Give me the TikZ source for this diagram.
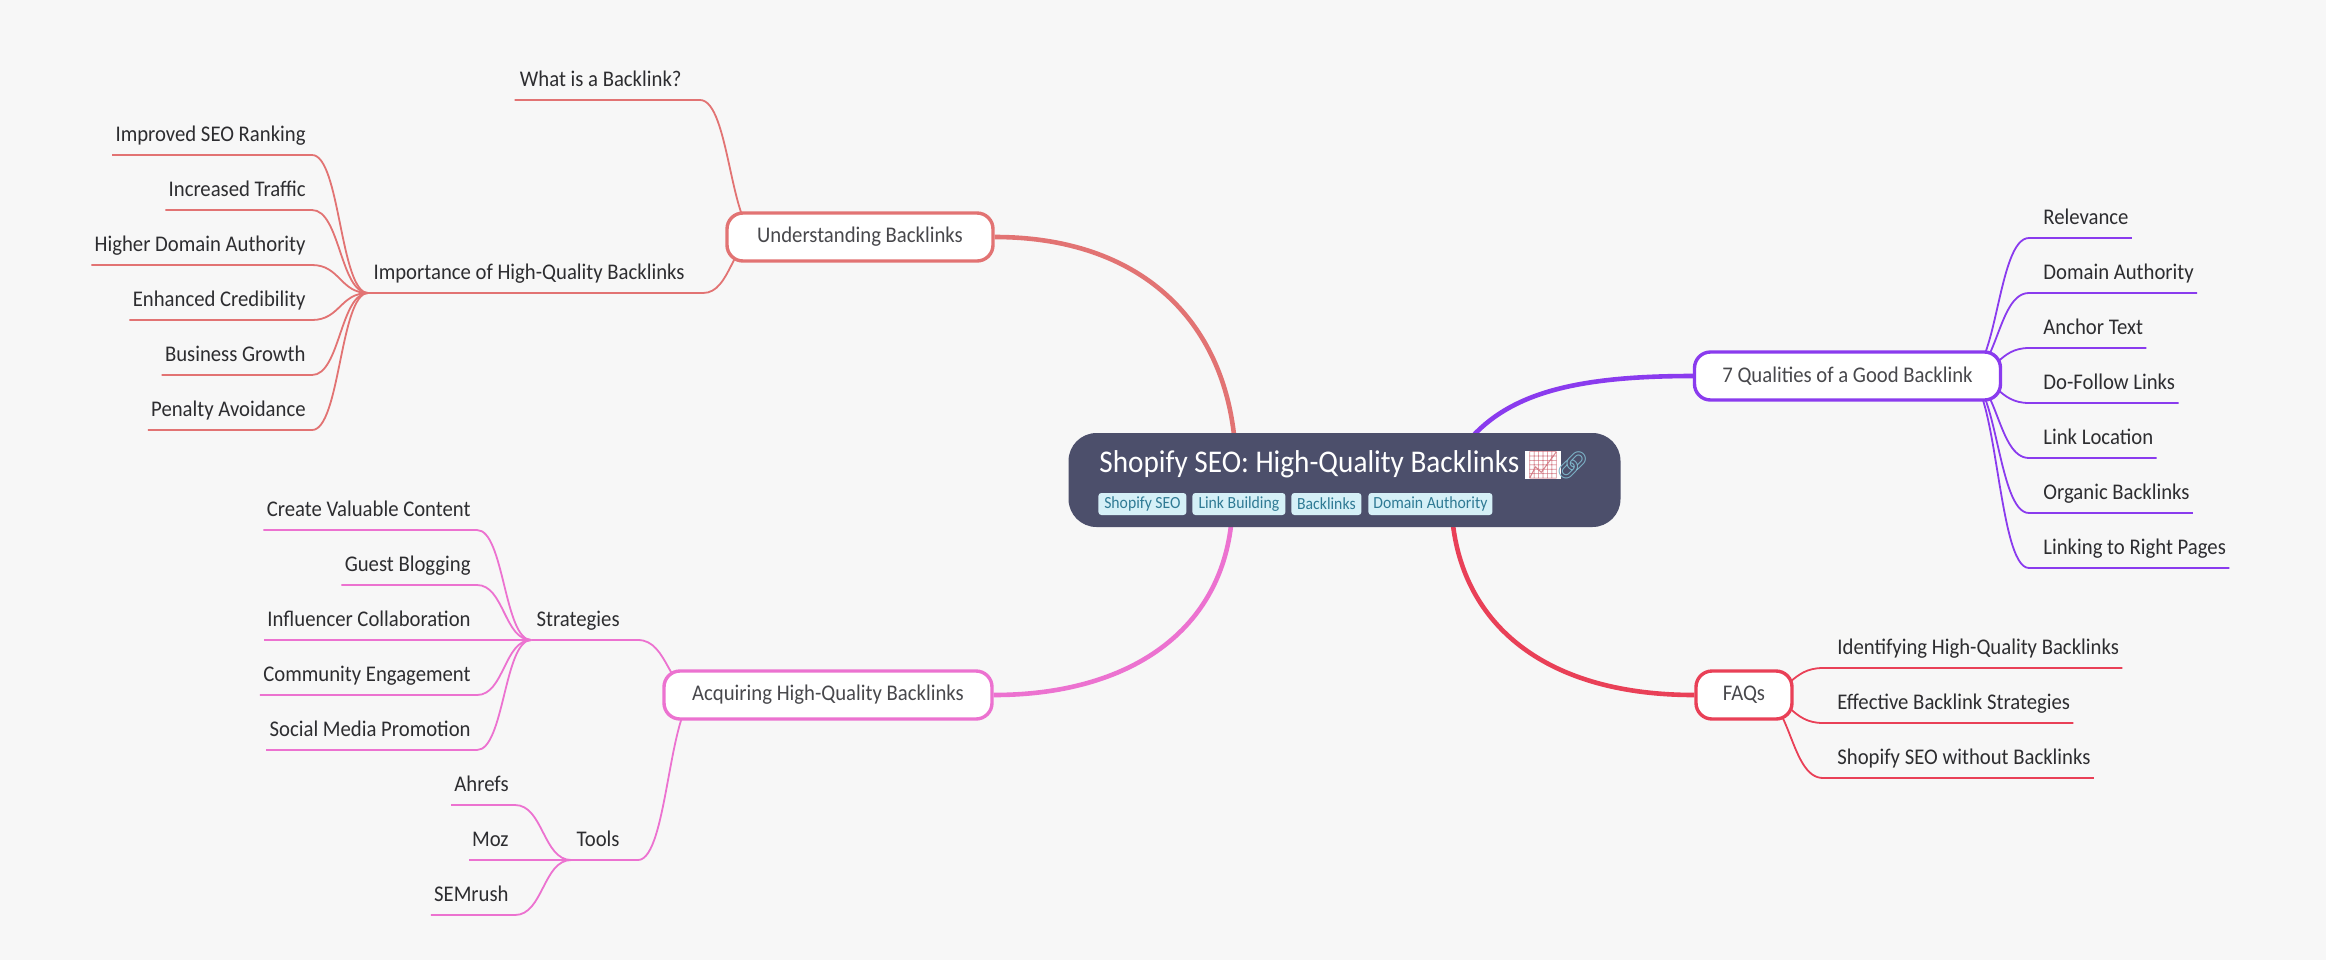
\documentclass[tikz,border=0pt]{standalone}
\usepackage{fontspec}
\usepackage{xcolor}
\usetikzlibrary{calc}
\setmainfont[FakeStretch=0.925]{Carlito}
\newfontfamily\emojifont{Noto Emoji}
\definecolor{mapbg}{RGB}{247, 247, 247}
\definecolor{mapink}{RGB}{45, 45, 48}
\definecolor{mapboxink}{RGB}{72, 72, 76}
\definecolor{maproot}{RGB}{76, 79, 107}
\definecolor{maptag}{RGB}{213, 240, 247}
\definecolor{maptagink}{RGB}{47, 122, 148}
\definecolor{maplink}{RGB}{125, 180, 200}
\definecolor{mapchart}{RGB}{214, 130, 140}
\definecolor{mapred}{RGB}{226, 115, 115}
\definecolor{mappink}{RGB}{236, 114, 208}
\definecolor{mappurple}{RGB}{138, 59, 238}
\definecolor{mapcrimson}{RGB}{233, 64, 87}
\tikzset{
  leafleft/.style={anchor=south east, inner ysep=0pt, inner xsep=1.5pt, text=mapink,
    text height=7pt, text depth=6.8pt, font=\fontsize{11.2}{13}\selectfont,
    execute at end node={\hskip1.5pt}},
  leafright/.style={anchor=south west, inner ysep=0pt, inner xsep=1.5pt, text=mapink,
    text height=7pt, text depth=6.8pt, font=\fontsize{11.2}{13}\selectfont,
    execute at begin node={\hskip5.5pt}},
  midleft/.style={leafleft, inner xsep=2.5pt, execute at end node={\hskip5pt}},
  branchbox/.style={draw, line width=1.7pt, fill=white, rounded corners=8pt, text=mapboxink,
    minimum height=24pt, inner sep=0pt, font=\fontsize{11.2}{13}\selectfont},
  tagbox/.style={fill=maptag, rounded corners=1.5pt, text=maptagink, anchor=west,
    minimum height=11pt, inner sep=0pt, font=\fontsize{8.5}{10}\selectfont},
  branch/.style={to path={let \p1=(\tikztostart),\p2=(\tikztotarget) in
    .. controls (\x1/2+\x2/2,\y1) and (\x1/2+\x2/2,\y2) .. (\tikztotarget)}},
  thin line/.style={line width=0.9pt},
  main line/.style={line width=2.3pt}
}
\begin{document}
\begin{tikzpicture}[x=0.5pt, y=-0.5pt]
\fill[mapbg] (0,0) rectangle (2326,960);
\useasboundingbox (0,0) rectangle (2326,960);

% Junctions, hidden behind the boxes
\coordinate (jund) at (760,237);
\coordinate (jacq) at (699,695);
\coordinate (jqual) at (1966,376);
\coordinate (jfaq) at (1758,695);
\coordinate (cund) at (1235,445);
\coordinate (cacq) at (1232,515);
\coordinate (cqual) at (1465,445);
\coordinate (cfaq) at (1452,515);

% Understanding Backlinks
\node[midleft] (what) at (700,100) {What is a Backlink?};
\node[midleft] (imp) at (703,293) {Importance of High-Quality Backlinks};
\node[leafleft] (imp1) at (312,155) {Improved SEO Ranking};
\node[leafleft] (imp2) at (312,210) {Increased Traffic};
\node[leafleft] (imp3) at (312,265) {Higher Domain Authority};
\node[leafleft] (imp4) at (312,320) {Enhanced Credibility};
\node[leafleft] (imp5) at (312,375) {Business Growth};
\node[leafleft] (imp6) at (312,430) {Penalty Avoidance};
\draw[mapred, thin line] (jund) to[branch] (what.south east) -- (what.south west);
\draw[mapred, thin line] (jund) to[branch] (imp.south east) -- (imp.south west);
\draw[mapred, thin line] (imp.south west) to[branch] (imp1.south east) -- (imp1.south west);
\draw[mapred, thin line] (imp.south west) to[branch] (imp2.south east) -- (imp2.south west);
\draw[mapred, thin line] (imp.south west) to[branch] (imp3.south east) -- (imp3.south west);
\draw[mapred, thin line] (imp.south west) to[branch] (imp4.south east) -- (imp4.south west);
\draw[mapred, thin line] (imp.south west) to[branch] (imp5.south east) -- (imp5.south west);
\draw[mapred, thin line] (imp.south west) to[branch] (imp6.south east) -- (imp6.south west);

% Acquiring High-Quality Backlinks
\node[midleft] (str) at (638,640) {Strategies};
\node[leafleft] (str1) at (477,530) {Create Valuable Content};
\node[leafleft] (str2) at (477,585) {Guest Blogging};
\node[leafleft] (str3) at (477,640) {Influencer Collaboration};
\node[leafleft] (str4) at (477,695) {Community Engagement};
\node[leafleft] (str5) at (477,750) {Social Media Promotion};
\node[midleft] (tools) at (638,860) {Tools};
\node[leafleft] (tools1) at (515,805) {Ahrefs};
\node[leafleft] (tools2) at (515,860) {Moz};
\node[leafleft] (tools3) at (515,915) {SEMrush};
\draw[mappink, thin line] (jacq) to[branch] (str.south east) -- (str.south west);
\draw[mappink, thin line] (jacq) to[branch] (tools.south east) -- (tools.south west);
\draw[mappink, thin line] (str.south west) to[branch] (str1.south east) -- (str1.south west);
\draw[mappink, thin line] (str.south west) to[branch] (str2.south east) -- (str2.south west);
\draw[mappink, thin line] (str.south west) to[branch] (str3.south east) -- (str3.south west);
\draw[mappink, thin line] (str.south west) to[branch] (str4.south east) -- (str4.south west);
\draw[mappink, thin line] (str.south west) to[branch] (str5.south east) -- (str5.south west);
\draw[mappink, thin line] (tools.south west) to[branch] (tools1.south east) -- (tools1.south west);
\draw[mappink, thin line] (tools.south west) to[branch] (tools2.south east) -- (tools2.south west);
\draw[mappink, thin line] (tools.south west) to[branch] (tools3.south east) -- (tools3.south west);

% 7 Qualities of a Good Backlink
\node[leafright] (qual1) at (2029,238) {Relevance};
\node[leafright] (qual2) at (2029,293) {Domain Authority};
\node[leafright] (qual3) at (2029,348) {Anchor Text};
\node[leafright] (qual4) at (2029,403) {Do-Follow Links};
\node[leafright] (qual5) at (2029,458) {Link Location};
\node[leafright] (qual6) at (2029,513) {Organic Backlinks};
\node[leafright] (qual7) at (2029,568) {Linking to Right Pages};
\draw[mappurple, thin line] (jqual) to[branch] (qual1.south west) -- (qual1.south east);
\draw[mappurple, thin line] (jqual) to[branch] (qual2.south west) -- (qual2.south east);
\draw[mappurple, thin line] (jqual) to[branch] (qual3.south west) -- (qual3.south east);
\draw[mappurple, thin line] (jqual) to[branch] (qual4.south west) -- (qual4.south east);
\draw[mappurple, thin line] (jqual) to[branch] (qual5.south west) -- (qual5.south east);
\draw[mappurple, thin line] (jqual) to[branch] (qual6.south west) -- (qual6.south east);
\draw[mappurple, thin line] (jqual) to[branch] (qual7.south west) -- (qual7.south east);

% FAQs
\node[leafright] (faq1) at (1823,668) {Identifying High-Quality Backlinks};
\node[leafright] (faq2) at (1823,723) {Effective Backlink Strategies};
\node[leafright] (faq3) at (1823,778) {Shopify SEO without Backlinks};
\draw[mapcrimson, thin line] (jfaq) to[branch] (faq1.south west) -- (faq1.south east);
\draw[mapcrimson, thin line] (jfaq) to[branch] (faq2.south west) -- (faq2.south east);
\draw[mapcrimson, thin line] (jfaq) to[branch] (faq3.south west) -- (faq3.south east);

% Branch boxes
\node[branchbox, draw=mapred, minimum width=133pt] (und) at (860,237) {Understanding Backlinks};
\node[branchbox, draw=mappink, minimum width=164pt] (acq) at (828,695) {Acquiring High-Quality Backlinks};
\node[branchbox, draw=mappurple, minimum width=153pt] (qual) at (1847.5,376) {7 Qualities of a Good Backlink};
\node[branchbox, draw=mapcrimson, minimum width=48pt] (faq) at (1744,695) {FAQs};

% Main connectors
\draw[mapred, main line] (cund) .. controls (1225,320) and (1140,237) .. (und.east);
\draw[mappink, main line] (cacq) .. controls (1224,630) and (1130,695) .. (acq.east);
\draw[mappurple, main line] (cqual) .. controls (1505,395) and (1570,376) .. (qual.west);
\draw[mapcrimson, main line] (cfaq) .. controls (1460,620) and (1540,695) .. (faq.west);

% Root
\node[fill=maproot, rounded corners=14pt, minimum width=276pt, minimum height=47pt, inner sep=0pt] (root) at (1344.5,480) {};
\node[anchor=base west, inner sep=0pt, text=white, font=\fontsize{15.8}{18}\selectfont] (title) at (1099,472) {Shopify SEO: High-Quality Backlinks};
\node[anchor=base west, inner sep=0.3pt, fill=white, text=mapchart, font=\fontsize{13.4}{16}\selectfont] (chart) at (1525,474) {\emojifont 📈};
\node[anchor=base west, inner sep=0pt, text=maplink, font=\fontsize{13.4}{16}\selectfont] (chain) at (1555,474) {\emojifont 🔗};
\node[tagbox, minimum width=44pt] (tag1) at (1098,504) {Shopify SEO};
\node[tagbox, minimum width=46.5pt] (tag2) at (1192,504) {Link Building};
\node[tagbox, minimum width=35pt] (tag3) at (1291,504) {Backlinks};
\node[tagbox, minimum width=62pt] (tag4) at (1368,504) {Domain Authority};
\end{tikzpicture}
\end{document}
